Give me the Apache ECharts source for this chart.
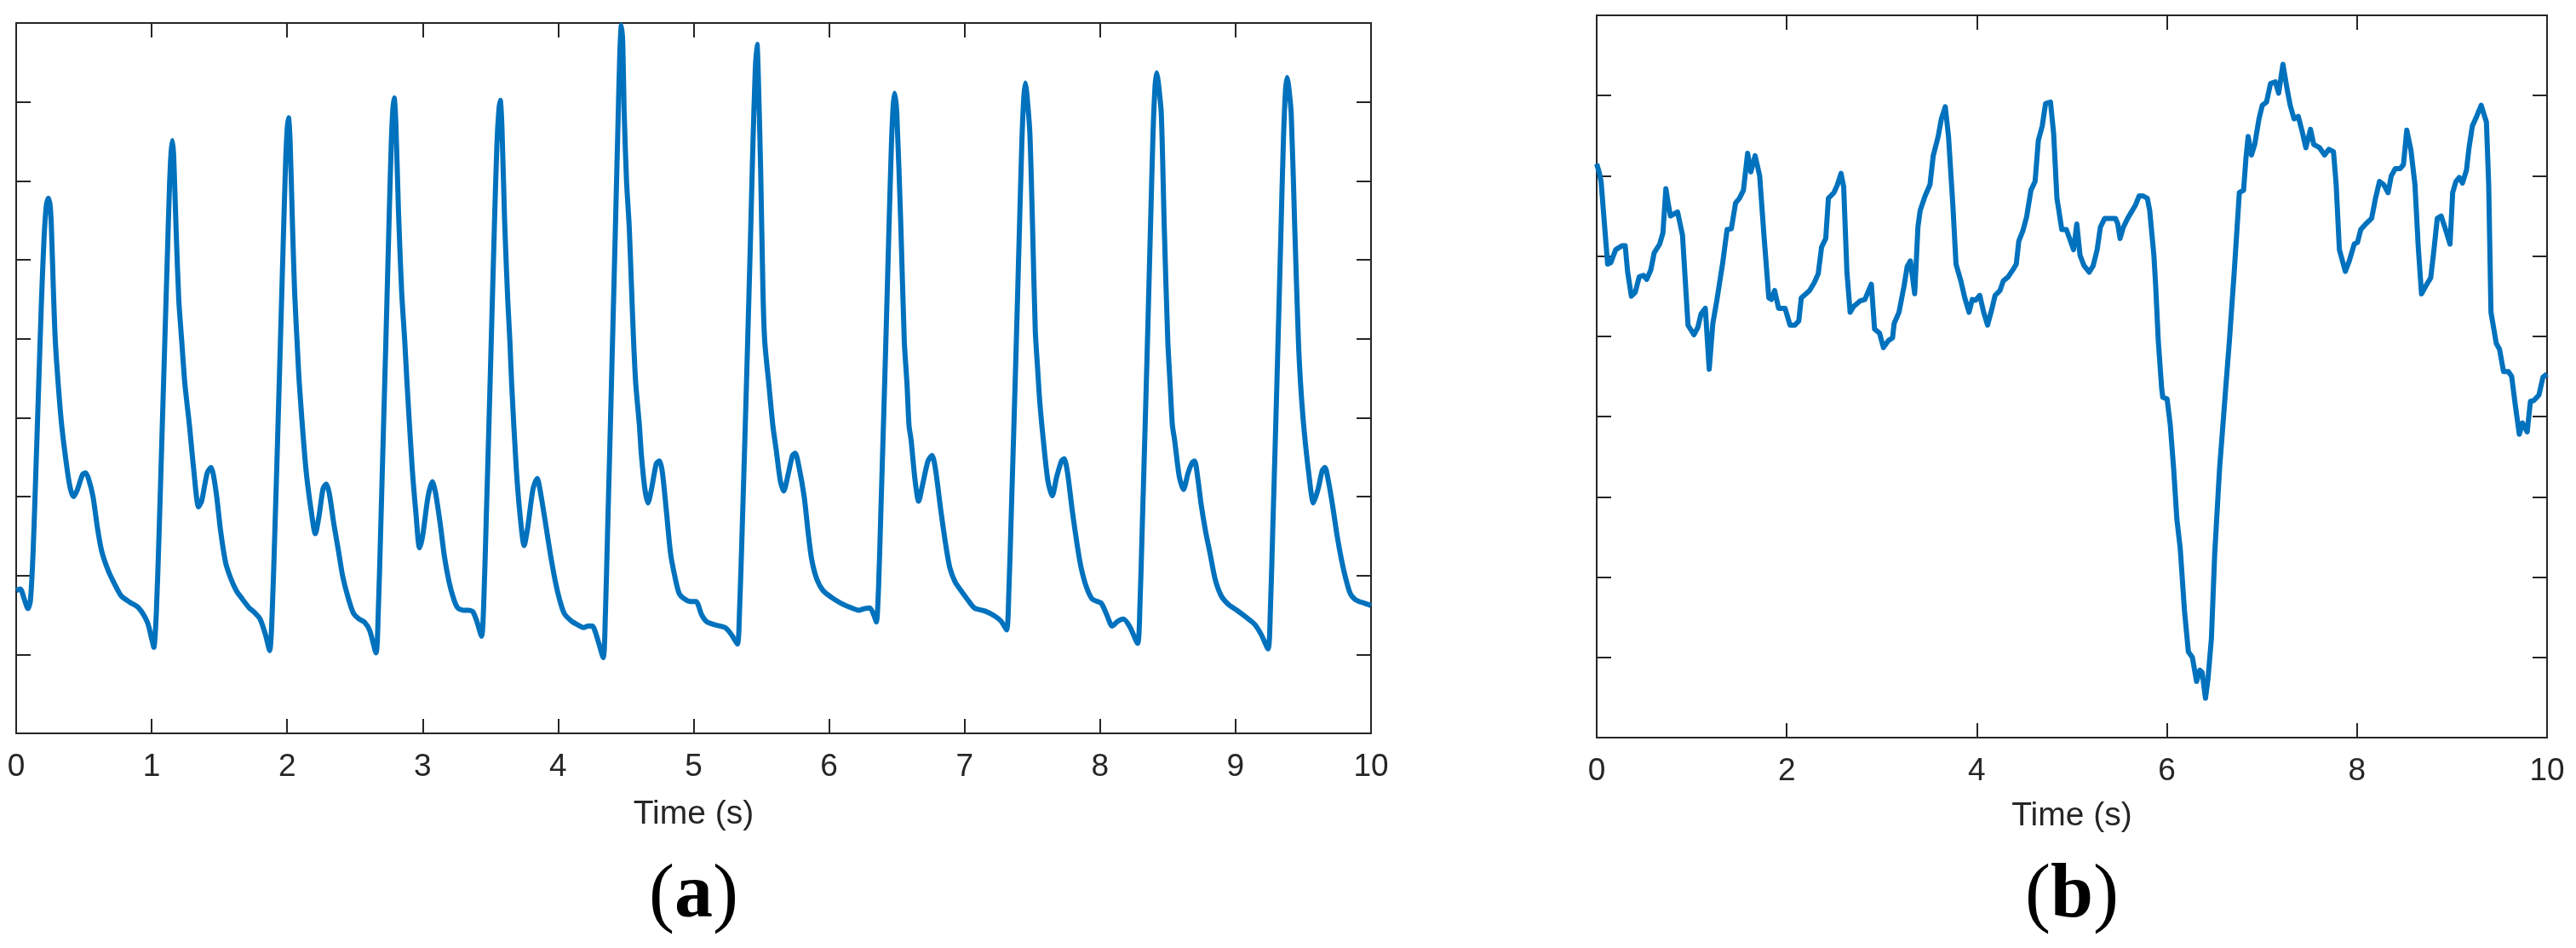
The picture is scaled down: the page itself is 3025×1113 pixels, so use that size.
<!DOCTYPE html>
<html><head><meta charset="utf-8">
<script src="https://cdn.jsdelivr.net/npm/echarts@6/dist/echarts.min.js"></script>
<style>html,body{margin:0;padding:0;background:#fff}#c{width:3025px;height:1113px}</style>
</head><body><div id="c"></div>
<script>
// Panel (a): PPG-like signal, [time s, amplitude]
const ppgA = [
[0.000,1.81],[0.030,1.83],[0.060,1.70],[0.087,1.58],[0.105,1.68],[0.125,2.30],[0.145,3.30],[0.165,4.35],[0.185,5.40],[0.205,6.25],[0.222,6.68],[0.237,6.78],[0.250,6.70],[0.260,6.41],[0.275,5.60],[0.289,4.97],[0.310,4.43],[0.336,3.90],[0.375,3.36],[0.400,3.10],[0.423,3.00],[0.450,3.08],[0.490,3.28],[0.513,3.30],[0.535,3.22],[0.567,3.00],[0.600,2.60],[0.631,2.31],[0.680,2.06],[0.730,1.88],[0.776,1.74],[0.840,1.66],[0.904,1.59],[0.968,1.41],[1.000,1.20],[1.016,1.09],
[1.035,1.55],[1.055,2.55],[1.075,3.70],[1.095,4.85],[1.115,6.00],[1.132,6.95],[1.143,7.35],[1.153,7.51],[1.163,7.30],[1.180,6.40],[1.200,5.50],[1.222,4.97],[1.245,4.43],[1.279,3.90],[1.310,3.35],[1.346,2.87],[1.370,2.95],[1.410,3.30],[1.439,3.37],[1.455,3.28],[1.480,3.00],[1.510,2.55],[1.545,2.17],[1.580,1.98],[1.624,1.81],[1.670,1.70],[1.720,1.59],[1.760,1.53],[1.800,1.45],[1.840,1.25],[1.871,1.05],
[1.890,1.55],[1.910,2.60],[1.930,3.75],[1.950,4.95],[1.970,6.15],[1.988,7.20],[2.000,7.65],[2.010,7.80],[2.022,7.50],[2.040,6.40],[2.055,5.60],[2.073,4.97],[2.090,4.43],[2.138,3.36],[2.175,2.85],[2.208,2.53],[2.235,2.75],[2.265,3.10],[2.288,3.16],[2.310,3.05],[2.346,2.64],[2.380,2.30],[2.410,1.99],[2.450,1.72],[2.490,1.52],[2.530,1.45],[2.570,1.41],[2.610,1.30],[2.656,1.02],
[2.672,1.50],[2.690,2.55],[2.710,3.80],[2.730,5.05],[2.750,6.35],[2.768,7.45],[2.780,7.90],[2.790,8.05],[2.802,7.75],[2.822,6.60],[2.845,5.60],[2.868,4.97],[2.885,4.43],[2.923,3.36],[2.950,2.80],[2.977,2.35],[3.000,2.50],[3.040,3.00],[3.073,3.19],[3.095,3.05],[3.131,2.64],[3.160,2.25],[3.195,1.92],[3.230,1.70],[3.259,1.59],[3.300,1.56],[3.340,1.56],[3.371,1.54],[3.400,1.42],[3.435,1.23],
[3.452,1.70],[3.470,2.75],[3.490,3.95],[3.510,5.20],[3.530,6.45],[3.548,7.45],[3.562,7.88],[3.573,8.02],[3.585,7.70],[3.605,6.50],[3.628,5.50],[3.644,4.97],[3.657,4.43],[3.691,3.36],[3.720,2.75],[3.749,2.38],[3.775,2.60],[3.815,3.10],[3.846,3.23],[3.865,3.10],[3.900,2.74],[3.940,2.30],[3.980,1.92],[4.010,1.70],[4.045,1.52],[4.100,1.42],[4.150,1.37],[4.190,1.34],[4.220,1.36],[4.252,1.36],[4.290,1.20],[4.333,0.96],
[4.348,1.45],[4.365,2.55],[4.385,3.85],[4.405,5.20],[4.425,6.55],[4.443,7.80],[4.456,8.65],[4.467,8.97],[4.477,8.75],[4.487,7.90],[4.505,7.00],[4.525,6.41],[4.545,5.50],[4.557,4.97],[4.573,4.43],[4.600,3.90],[4.614,3.54],[4.640,3.10],[4.663,2.92],[4.690,3.10],[4.725,3.42],[4.749,3.45],[4.770,3.30],[4.800,2.80],[4.830,2.28],[4.860,2.00],[4.894,1.77],[4.936,1.70],[4.980,1.67],[5.018,1.67],[5.060,1.50],[5.100,1.41],[5.170,1.37],[5.232,1.34],[5.280,1.25],[5.323,1.13],
[5.340,1.60],[5.358,2.55],[5.378,3.70],[5.398,4.90],[5.418,6.15],[5.436,7.35],[5.455,8.40],[5.468,8.73],[5.478,8.30],[5.495,7.13],[5.512,5.60],[5.525,4.97],[5.555,4.43],[5.585,3.90],[5.609,3.60],[5.640,3.20],[5.665,3.07],[5.700,3.30],[5.730,3.52],[5.750,3.55],[5.775,3.40],[5.816,3.00],[5.845,2.55],[5.872,2.20],[5.910,1.95],[5.955,1.81],[6.020,1.72],[6.086,1.65],[6.150,1.60],[6.218,1.56],[6.260,1.58],[6.300,1.59],[6.330,1.50],[6.349,1.41],
[6.365,1.85],[6.382,2.80],[6.402,3.95],[6.422,5.15],[6.442,6.40],[6.460,7.45],[6.473,7.95],[6.484,8.11],[6.500,7.85],[6.530,6.41],[6.555,4.97],[6.575,4.43],[6.590,3.90],[6.605,3.72],[6.635,3.20],[6.661,2.94],[6.690,3.15],[6.730,3.45],[6.760,3.52],[6.785,3.35],[6.825,2.82],[6.860,2.40],[6.891,2.10],[6.930,1.92],[6.973,1.81],[7.020,1.70],[7.072,1.59],[7.150,1.55],[7.220,1.49],[7.270,1.42],[7.310,1.31],
[7.327,1.80],[7.345,2.80],[7.365,3.95],[7.385,5.15],[7.405,6.40],[7.423,7.50],[7.437,8.05],[7.449,8.24],[7.460,8.10],[7.482,7.60],[7.502,6.41],[7.522,5.10],[7.540,4.60],[7.555,4.20],[7.581,3.72],[7.615,3.20],[7.647,3.01],[7.680,3.25],[7.715,3.45],[7.735,3.48],[7.760,3.30],[7.795,2.82],[7.830,2.40],[7.860,2.10],[7.900,1.85],[7.943,1.70],[8.008,1.65],[8.050,1.50],[8.090,1.36],[8.130,1.42],[8.173,1.45],[8.220,1.35],[8.277,1.14],
[8.294,1.60],[8.312,2.65],[8.332,3.85],[8.352,5.10],[8.372,6.40],[8.391,7.60],[8.406,8.20],[8.418,8.37],[8.430,8.25],[8.452,7.85],[8.474,6.41],[8.500,4.97],[8.517,4.43],[8.534,3.90],[8.550,3.72],[8.585,3.25],[8.616,3.09],[8.650,3.30],[8.680,3.43],[8.698,3.45],[8.720,3.25],[8.747,2.89],[8.780,2.55],[8.812,2.28],[8.850,1.95],[8.895,1.74],[8.950,1.63],[9.010,1.56],[9.080,1.47],[9.142,1.38],[9.190,1.25],[9.240,1.07],
[9.257,1.55],[9.275,2.60],[9.295,3.80],[9.315,5.05],[9.335,6.35],[9.354,7.55],[9.369,8.15],[9.381,8.31],[9.392,8.20],[9.411,7.85],[9.437,6.41],[9.464,4.97],[9.480,4.43],[9.503,3.90],[9.540,3.30],[9.575,2.92],[9.610,3.10],[9.640,3.33],[9.660,3.37],[9.685,3.20],[9.716,2.89],[9.750,2.50],[9.782,2.20],[9.815,1.95],[9.847,1.77],[9.880,1.70],[9.913,1.67],[9.950,1.65],[10.000,1.62]
];

// Panel (b): corrupted signal, [time s, amplitude]
const ppgB = [
[0.000,7.15],[0.029,7.03],[0.046,6.93],[0.115,5.90],[0.149,5.92],[0.200,6.08],[0.269,6.13],[0.300,6.13],[0.326,5.80],[0.365,5.50],[0.406,5.55],[0.447,5.74],[0.492,5.76],[0.526,5.71],[0.570,5.83],[0.605,6.04],[0.663,6.15],[0.697,6.29],[0.728,6.84],[0.749,6.68],[0.776,6.50],[0.851,6.55],[0.903,6.26],[0.961,5.14],[1.023,5.02],[1.064,5.11],[1.098,5.28],[1.143,5.35],[1.184,4.59],[1.222,5.16],[1.263,5.44],[1.324,5.90],[1.372,6.33],[1.417,6.34],[1.461,6.66],[1.502,6.72],[1.544,6.82],[1.588,7.28],[1.622,7.05],[1.667,7.25],[1.715,7.00],[1.760,6.26],[1.811,5.48],[1.838,5.46],[1.872,5.57],[1.914,5.35],[1.982,5.35],[2.034,5.14],[2.085,5.14],[2.126,5.19],[2.153,5.48],[2.239,5.57],[2.290,5.67],[2.331,5.78],[2.366,6.11],[2.410,6.22],[2.438,6.72],[2.496,6.79],[2.530,6.88],[2.571,7.03],[2.599,6.86],[2.633,5.80],[2.667,5.30],[2.702,5.37],[2.770,5.44],[2.822,5.46],[2.890,5.65],[2.924,5.09],[2.976,5.04],[3.017,4.86],[3.072,4.95],[3.113,4.98],[3.130,5.16],[3.181,5.30],[3.233,5.62],[3.267,5.87],[3.301,5.94],[3.346,5.53],[3.380,6.36],[3.404,6.57],[3.456,6.75],[3.507,6.89],[3.541,7.25],[3.593,7.49],[3.627,7.71],[3.668,7.86],[3.702,7.49],[3.747,6.65],[3.781,5.90],[3.832,5.69],[3.873,5.48],[3.918,5.30],[3.952,5.46],[3.986,5.45],[4.031,5.51],[4.072,5.30],[4.113,5.14],[4.158,5.34],[4.192,5.51],[4.243,5.57],[4.278,5.69],[4.329,5.74],[4.380,5.83],[4.415,5.90],[4.442,6.19],[4.483,6.31],[4.524,6.49],[4.569,6.82],[4.613,6.93],[4.647,7.44],[4.688,7.62],[4.723,7.90],[4.775,7.92],[4.808,7.53],[4.843,6.72],[4.894,6.33],[4.942,6.33],[4.976,6.22],[5.018,6.08],[5.052,6.40],[5.086,6.01],[5.128,5.88],[5.183,5.80],[5.224,5.88],[5.266,6.08],[5.300,6.36],[5.345,6.47],[5.397,6.47],[5.459,6.47],[5.483,6.40],[5.507,6.22],[5.542,6.36],[5.587,6.47],[5.632,6.56],[5.667,6.63],[5.708,6.75],[5.749,6.75],[5.794,6.72],[5.819,6.57],[5.863,6.01],[5.881,5.65],[5.909,4.95],[5.945,4.35],[5.957,4.24],[6.002,4.22],[6.036,3.89],[6.071,3.35],[6.105,2.72],[6.140,2.36],[6.185,1.58],[6.226,1.07],[6.268,1.00],[6.312,0.70],[6.347,0.84],[6.371,0.81],[6.406,0.49],[6.433,0.74],[6.468,1.23],[6.503,2.29],[6.554,3.35],[6.600,4.06],[6.623,4.42],[6.658,4.95],[6.710,5.83],[6.762,6.79],[6.807,6.82],[6.831,7.21],[6.855,7.49],[6.890,7.26],[6.924,7.39],[6.969,7.71],[7.004,7.88],[7.048,7.92],[7.090,8.15],[7.141,8.17],[7.176,8.03],[7.221,8.39],[7.262,8.10],[7.297,7.88],[7.338,7.71],[7.383,7.74],[7.428,7.53],[7.462,7.35],[7.511,7.58],[7.545,7.39],[7.607,7.35],[7.659,7.26],[7.704,7.33],[7.753,7.30],[7.781,6.89],[7.815,6.08],[7.877,5.81],[7.919,5.94],[7.971,6.15],[8.005,6.17],[8.040,6.33],[8.092,6.40],[8.154,6.47],[8.195,6.72],[8.237,6.93],[8.282,6.89],[8.327,6.79],[8.361,7.00],[8.403,7.09],[8.455,7.09],[8.489,7.14],[8.524,7.57],[8.568,7.32],[8.610,6.89],[8.645,6.11],[8.679,5.53],[8.720,5.62],[8.776,5.73],[8.810,6.08],[8.845,6.47],[8.886,6.50],[8.938,6.31],[8.979,6.15],[9.007,6.79],[9.041,6.93],[9.076,6.98],[9.110,6.91],[9.152,7.07],[9.179,7.35],[9.214,7.62],[9.259,7.74],[9.307,7.88],[9.362,7.67],[9.386,6.89],[9.410,5.30],[9.466,4.91],[9.500,4.84],[9.542,4.56],[9.594,4.56],[9.628,4.50],[9.663,4.17],[9.708,3.78],[9.742,3.92],[9.791,3.81],[9.825,4.19],[9.860,4.20],[9.915,4.27],[9.957,4.49],[10.000,4.53]
];

const xRangeA = [0, 10], xStepA = 1;
const xRangeB = [0, 10], xStepB = 2;
const yRange = [0, 9], yStep = 1;
const xName = 'Time (s)';
const panelLetters = ['a', 'b'];

const AX = '#262626';
const LINE = '#0072BD';
const SANS = 'Liberation Sans';

function xAxes(grid, range, step, gap) {
  const base = {
    gridIndex: grid, type: 'value', min: range[0], max: range[1], interval: step,
    axisLine: {show: true, onZero: false, lineStyle: {color: AX, width: 2}},
    axisTick: {show: true, inside: true, length: 17, lineStyle: {color: AX, width: 2}},
    splitLine: {show: false}
  };
  return [
    Object.assign({}, base, {
      position: 'bottom',
      axisLabel: {show: true, fontSize: 37, color: AX, fontFamily: SANS, margin: 21},
      name: xName, nameLocation: 'middle', nameGap: gap,
      nameTextStyle: {fontSize: 39, color: AX, fontFamily: SANS}
    }),
    Object.assign({}, base, {position: 'top', axisLabel: {show: false}})
  ];
}
function yAxes(grid) {
  const base = {
    gridIndex: grid, type: 'value', min: yRange[0], max: yRange[1], interval: yStep,
    axisLine: {show: true, onZero: false, lineStyle: {color: AX, width: 2}},
    axisTick: {show: true, inside: true, length: 17, lineStyle: {color: AX, width: 2}},
    axisLabel: {show: false},
    splitLine: {show: false}
  };
  return [
    Object.assign({}, base, {position: 'left'}),
    Object.assign({}, base, {position: 'right'})
  ];
}

const chart = echarts.init(document.getElementById('c'), null, {renderer: 'canvas'});
chart.setOption({
  backgroundColor: '#ffffff',
  animation: false,
  grid: [
    {left: 19, top: 27, width: 1591, height: 834, containLabel: false},
    {left: 1875, top: 18, width: 1116, height: 848, containLabel: false}
  ],
  xAxis: [].concat(xAxes(0, xRangeA, xStepA, 76), xAxes(1, xRangeB, xStepB, 73)),
  yAxis: [].concat(yAxes(0), yAxes(1)),
  series: [
    {type: 'line', xAxisIndex: 0, yAxisIndex: 0, data: ppgA, symbol: 'none', smooth: 0.25,
     lineStyle: {color: LINE, width: 6, join: 'round'}},
    {type: 'line', xAxisIndex: 2, yAxisIndex: 2, data: ppgB, symbol: 'none', smooth: false,
     lineStyle: {color: LINE, width: 6, join: 'round'}}
  ],
  graphic: panelLetters.map(function (l, i) {
    return {
      type: 'text', x: i === 0 ? 814.5 : 2433, y: 1053,
      style: {
        text: '{p|(}{b|' + l + '}{p|)}',
        align: 'center', verticalAlign: 'middle',
        rich: {
          p: {fontSize: 90, fontFamily: 'Liberation Serif', fill: '#000'},
          b: {fontSize: 90, fontFamily: 'Liberation Serif', fontWeight: 'bold', fill: '#000'}
        }
      }
    };
  })
});
</script>
</body></html>
